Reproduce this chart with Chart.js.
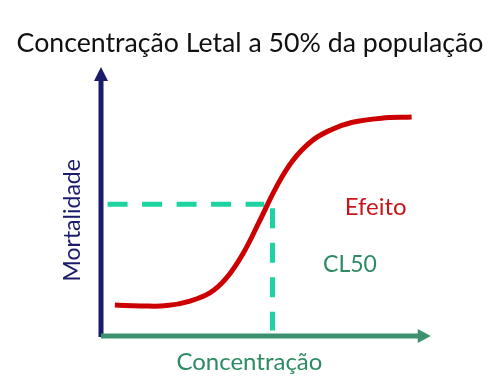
<!DOCTYPE html>
<html>
<head>
<meta charset="utf-8">
<script src="https://cdn.jsdelivr.net/npm/chart.js@4/dist/chart.umd.min.js"></script>
<style>
    html, body { margin: 0; padding: 0; background: #ffffff; }
    #wrap { width: 500px; height: 380px; }
</style>
</head>
<body>
<div id="wrap"><canvas id="clChart"></canvas></div>
<script>
// Curva dose-resposta
const concentracao = [0.42, 1.2, 2.0, 2.7, 3.3, 3.8, 4.3, 4.8, 5.3, 5.8, 6.4, 7.0, 7.6, 8.5, 9.42];
const mortalidade = [11.5, 11.2, 11.3, 13.0, 16.0, 21.5, 30.5, 42.5, 55.0, 65.0, 72.6, 76.8, 79.4, 81.0, 81.4];

// Ponto CL50
const cl50Concentracao = [5.2];
const cl50Mortalidade = [49];

const tituloTexto = 'Concentração Letal a 50% da população';
const eixoX = 'Concentração';
const eixoY = 'Mortalidade';
const rotuloEfeito = 'Efeito';
const rotuloCL50 = 'CL50';

const fonte = 'Lato, "Open Sans", sans-serif';

document.addEventListener("DOMContentLoaded", function() {
    const ctx = document.getElementById('clChart').getContext('2d');

    // Eixos com setas e rotulos desenhados a partir das escalas
    const eixosPlugin = {
        id: 'eixosPlugin',
        beforeDatasetsDraw(chart) {
            const c = chart.ctx;
            const x = chart.scales.x;
            const y = chart.scales.y;
            const x0 = x.getPixelForValue(0);
            const y0 = y.getPixelForValue(0);
            const xEnd = x.getPixelForValue(10);
            const yEnd = y.getPixelForValue(100);
            c.save();
            // eixo y
            c.strokeStyle = '#1b1b6b';
            c.fillStyle = '#1b1b6b';
            c.lineWidth = 5;
            c.beginPath();
            c.moveTo(x0, y0 + 1);
            c.lineTo(x0, yEnd + 10);
            c.stroke();
            c.beginPath();
            c.moveTo(x0, yEnd);
            c.lineTo(x0 - 7, yEnd + 14);
            c.lineTo(x0 + 7, yEnd + 14);
            c.closePath();
            c.fill();
            // eixo x
            c.strokeStyle = '#3d9170';
            c.fillStyle = '#3d9170';
            c.beginPath();
            c.moveTo(x0, y0);
            c.lineTo(xEnd - 10, y0);
            c.stroke();
            c.beginPath();
            c.moveTo(xEnd, y0);
            c.lineTo(xEnd - 13, y0 - 7);
            c.lineTo(xEnd - 13, y0 + 7);
            c.closePath();
            c.fill();
            c.restore();
        },
        afterDatasetsDraw(chart) {
            const c = chart.ctx;
            const x = chart.scales.x;
            const y = chart.scales.y;
            c.save();
            c.textAlign = 'center';
            c.textBaseline = 'middle';
            c.font = '24px ' + fonte;
            c.fillStyle = '#2e8b63';
            c.fillText(eixoX, x.getPixelForValue(4.5), y.getPixelForValue(0) + 26);
            c.font = '24px ' + fonte;
            c.fillStyle = '#c8151b';
            c.fillText(rotuloEfeito, x.getPixelForValue(8.33), y.getPixelForValue(48));
            c.font = '23px ' + fonte;
            c.fillStyle = '#2e8b63';
            c.fillText(rotuloCL50, x.getPixelForValue(7.55), y.getPixelForValue(26.4));
            // rotulo do eixo y
            c.translate(73, y.getPixelForValue(43));
            c.rotate(-Math.PI / 2);
            c.font = '23px ' + fonte;
            c.fillStyle = '#1b1b6b';
            c.fillText(eixoY, 0, 0);
            c.restore();
        }
    };

    new Chart(ctx, {
        type: 'line',
        data: {
            datasets: [
                {
                    label: 'Efeito',
                    data: concentracao.map((v, i) => ({ x: v, y: mortalidade[i] })),
                    borderColor: '#cc0000',
                    borderWidth: 5,
                    pointRadius: 0,
                    tension: 0.4,
                    fill: false
                },
                {
                    label: 'CL50 horizontal',
                    data: [{ x: 0.2, y: cl50Mortalidade[0] }, { x: cl50Concentracao[0] - 0.25, y: cl50Mortalidade[0] }],
                    borderColor: '#1dd3a0',
                    borderWidth: 5,
                    borderDash: [20, 14.5],
                    pointRadius: 0,
                    fill: false
                },
                {
                    label: 'CL50 vertical',
                    data: [{ x: cl50Concentracao[0], y: cl50Mortalidade[0] - 1.5 }, { x: cl50Concentracao[0], y: 2 }],
                    borderColor: '#1dd3a0',
                    borderWidth: 5,
                    borderDash: [20, 14.5],
                    pointRadius: 0,
                    fill: false
                }
            ]
        },
        options: {
            responsive: true,
            maintainAspectRatio: false,
            animation: false,
            layout: {
                padding: { left: 0, right: 0, top: 0, bottom: 44 }
            },
            scales: {
                x: {
                    type: 'linear',
                    display: false,
                    min: 0,
                    max: 12.1
                },
                y: {
                    type: 'linear',
                    min: 0,
                    max: 100,
                    grid: { display: false, drawTicks: false },
                    border: { display: false },
                    ticks: { display: false },
                    afterFit: function(scale) {
                        scale.width = 101;
                    }
                }
            },
            plugins: {
                legend: { display: false },
                tooltip: { enabled: false },
                title: {
                    display: true,
                    text: tituloTexto,
                    color: '#111111',
                    font: { family: fonte, size: 26.7, weight: 'normal' },
                    padding: { top: 27, bottom: 8 }
                }
            }
        },
        plugins: [eixosPlugin]
    });
});
</script>
</body>
</html>
